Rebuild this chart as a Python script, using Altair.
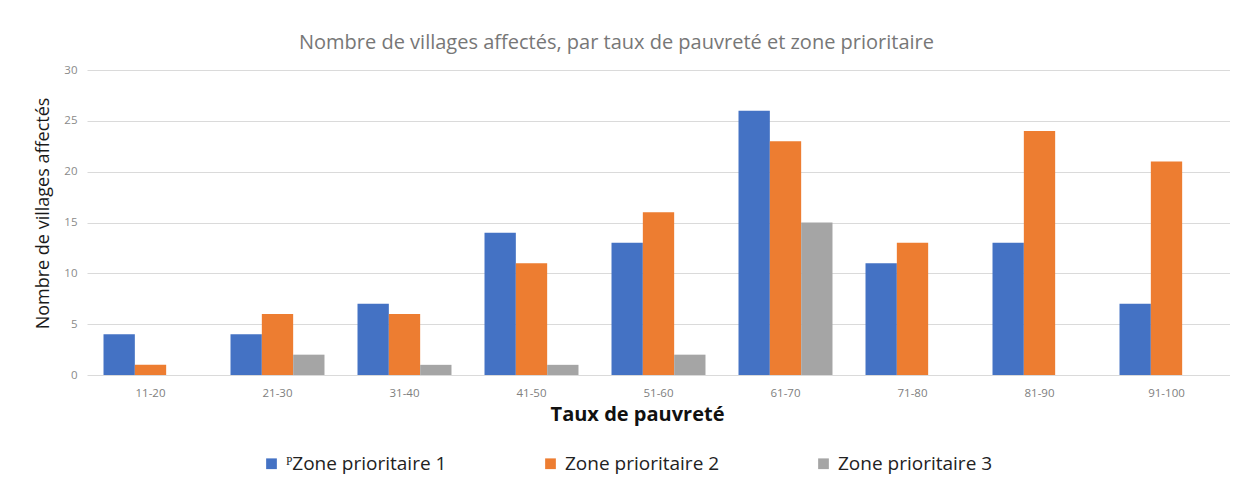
import altair as alt
import pandas as pd

categories = ["11-20", "21-30", "31-40", "41-50", "51-60", "61-70", "71-80", "81-90", "91-100"]
zone1 = [4, 4, 7, 14, 13, 26, 11, 13, 7]
zone2 = [1, 6, 6, 11, 16, 23, 13, 24, 21]
zone3 = [0, 2, 1, 1, 2, 15, 0, 0, 0]
series = ["ᴾZone prioritaire 1", "Zone prioritaire 2", "Zone prioritaire 3"]
colors = ["#4472C4", "#ED7D31", "#A5A5A5"]
y_ticks = [0, 5, 10, 15, 20, 25, 30]

rows = []
for i, c in enumerate(categories):
    for s, vals in zip(series, [zone1, zone2, zone3]):
        rows.append({"cat": c, "serie": s, "val": vals[i]})
df = pd.DataFrame(rows)

chart = alt.Chart(df).mark_bar().encode(
    x=alt.X(
        "cat:N", sort=categories, title="Taux de pauvreté",
        scale=alt.Scale(paddingInner=0.26, paddingOuter=0.13),
        axis=alt.Axis(labelAngle=0, labelColor="#808080", labelFontSize=11.5, labelFont="Open Sans",
                      labelPadding=12, ticks=False, domain=False, grid=False,
                      titleFont="Open Sans", titleFontSize=20, titleFontWeight="bold",
                      titleColor="#111111", titlePadding=6, titleX=550),
    ),
    xOffset=alt.XOffset("serie:N", sort=series, scale=alt.Scale(paddingInner=0, paddingOuter=0)),
    y=alt.Y(
        "val:Q", title="Nombre de villages affectés",
        scale=alt.Scale(domain=[0, 30], nice=False),
        axis=alt.Axis(values=y_ticks, labelColor="#8a8a8a", labelFontSize=11.5, labelFont="Open Sans",
                      labelPadding=10, ticks=False, domain=False, gridColor="#dadada", gridWidth=1,
                      titleFont="Open Sans", titleFontSize=18, titleFontWeight="normal",
                      titleColor="#1a1a1a", titlePadding=11, titleY=143),
    ),
    color=alt.Color(
        "serie:N", sort=series,
        scale=alt.Scale(domain=series, range=colors),
        legend=alt.Legend(title=None, orient="none", legendX=175, legendY=384, direction="horizontal",
                          symbolType="square", symbolSize=115, symbolStrokeWidth=0,
                          labelFont="Open Sans", labelFontSize=19, labelColor="#222222",
                          labelLimit=400, columnPadding=94, labelOffset=5),
    ),
).properties(
    width=1143,
    height=305,
    title=alt.TitleParams(
        "Nombre de villages affectés, par taux de pauvreté et zone prioritaire",
        font="Open Sans", fontSize=20, color="#777777", fontWeight="normal",
        anchor="middle", dx=-42, offset=11,
    ),
    padding={"left": 26, "top": 25, "right": 0, "bottom": 6},
).configure_view(stroke=None)

chart.save("out.html", embed_options={"renderer": "svg", "actions": False})
